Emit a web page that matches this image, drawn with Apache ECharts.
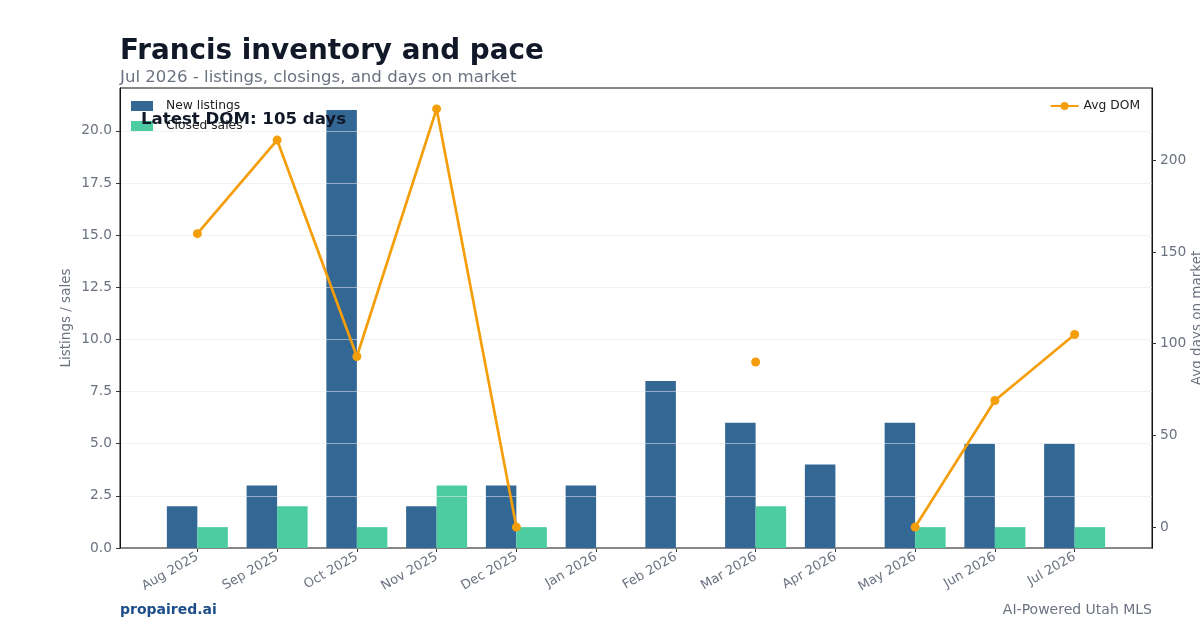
<!DOCTYPE html>
<html lang="en">
<head>
<meta charset="UTF-8">
<title>Francis inventory and pace</title>
<script src="https://cdn.jsdelivr.net/npm/echarts@6/dist/echarts.min.js"></script>
<style>
  html, body { margin: 0; padding: 0; background: #fff; }
  #main { width: 1200px; height: 630px; }
</style>
</head>
<body>
<div id="main"></div>
<script>
// chart data
const months = ["Aug 2025", "Sep 2025", "Oct 2025", "Nov 2025", "Dec 2025", "Jan 2026",
                "Feb 2026", "Mar 2026", "Apr 2026", "May 2026", "Jun 2026", "Jul 2026"];
const newListings = [2, 3, 21, 2, 3, 3, 8, 6, 4, 6, 5, 5];
const closedSales = [1, 2, 1, 3, 1, null, null, 2, null, 1, 1, 1];
const avgDom = [160, 211, 93, 228, 0, null, null, 90, null, 0, 69, 105];
const leftTicks = [0, 2.5, 5, 7.5, 10, 12.5, 15, 17.5, 20];
const rightTicks = [0, 50, 100, 150, 200];

const idx = months.map((m, i) => i);
const font = "DejaVu Sans";
const grey = "#6b7280";

let chart = echarts.init(document.getElementById("main"));

let option = {
  animation: false,
  textStyle: { fontFamily: font },
  grid: {
    left: 120, right: 48, top: 88, bottom: 82,
    outerBoundsMode: "none", containLabel: false,
    show: true, borderColor: "#111", borderWidth: 1
  },
  graphic: [
    { type: "text", left: 120, top: 38, style: { text: "Francis inventory and pace", font: "bold 27.8px DejaVu Sans", fill: "#111827" } },
    { type: "text", left: 120, top: 69, style: { text: "Jul 2026 - listings, closings, and days on market", font: "16.6px DejaVu Sans", fill: grey } },
    { type: "text", left: 141, top: 111, z: 100, style: { text: "Latest DOM: 105 days", font: "bold 16.6px DejaVu Sans", fill: "#111827" } },
    { type: "text", left: 120, top: 603, style: { text: "propaired.ai", font: "bold 14px DejaVu Sans", fill: "#1d4e89" } },
    { type: "text", right: 48, top: 603, style: { text: "AI-Powered Utah MLS", font: "14px DejaVu Sans", fill: grey, align: "right" } }
  ],
  legend: [
    {
      orient: "vertical", left: 126, top: 95, itemWidth: 22, itemHeight: 10, itemGap: 8,
      icon: "rect", data: ["New listings", "Closed sales"],
      textStyle: { fontSize: 12.3, color: "#222", fontFamily: font, padding: [0, 0, 0, 8] }
    },
    {
      right: 55, top: 95, itemWidth: 28, itemHeight: 10,
      data: ["Avg DOM"],
      textStyle: { fontSize: 12.3, color: "#222", fontFamily: font }
    }
  ],
  xAxis: {
    type: "value",
    min: -0.97, max: 11.97,
    splitLine: { show: false },
    axisLine: { onZero: false, lineStyle: { color: "#111" } },
    axisTick: { customValues: idx, length: 4, lineStyle: { color: "#333" } },
    axisLabel: {
      customValues: idx, rotate: 30, fontSize: 13, color: grey, margin: 8,
      formatter: (v) => months[v]
    }
  },
  yAxis: [
    {
      type: "value", min: 0, max: 22.05, z: 3,
      name: "Listings / sales", nameLocation: "middle", nameGap: 47, nameMoveOverlap: false,
      nameTextStyle: { color: grey, fontSize: 13.5 },
      axisLine: { show: true, onZero: false, lineStyle: { color: "#111" } },
      axisTick: { show: true, customValues: leftTicks, length: 4, lineStyle: { color: "#333" } },
      axisLabel: { customValues: leftTicks, color: grey, fontSize: 13.8, margin: 8, formatter: (v) => v.toFixed(1) },
      splitLine: { lineStyle: { color: "rgba(229,231,235,0.55)", width: 1 } }
    },
    {
      type: "value", min: -11.4, max: 239.4, position: "right",
      name: "Avg days on market", nameLocation: "middle", nameGap: 38, nameRotate: 90, nameMoveOverlap: false,
      nameTextStyle: { color: grey, fontSize: 13.5 },
      axisLine: { show: true, onZero: false, lineStyle: { color: "#111" } },
      axisTick: { show: true, customValues: rightTicks, length: 4, lineStyle: { color: "#333" } },
      axisLabel: { customValues: rightTicks, color: grey, fontSize: 13.8, margin: 8 },
      splitLine: { show: false }
    }
  ],
  series: [
    {
      name: "New listings", type: "bar", yAxisIndex: 0,
      barWidth: 30.5, barGap: "0%",
      itemStyle: { color: "#336794" },
      data: newListings.map((v, i) => [i, v])
    },
    {
      name: "Closed sales", type: "bar", yAxisIndex: 0,
      barWidth: 30.5, barGap: "0%",
      itemStyle: { color: "#4ecca1" },
      data: closedSales.map((v, i) => [i, v == null ? "-" : v])
    },
    {
      name: "Avg DOM", type: "line", yAxisIndex: 1, z: 5,
      symbol: "circle", symbolSize: 9, showSymbol: true, connectNulls: false,
      lineStyle: { color: "#f59e0b", width: 2.7 },
      itemStyle: { color: "#f59e0b" },
      data: avgDom.map((v, i) => [i, v == null ? "-" : v])
    }
  ]
};

chart.setOption(option);
</script>
</body>
</html>
